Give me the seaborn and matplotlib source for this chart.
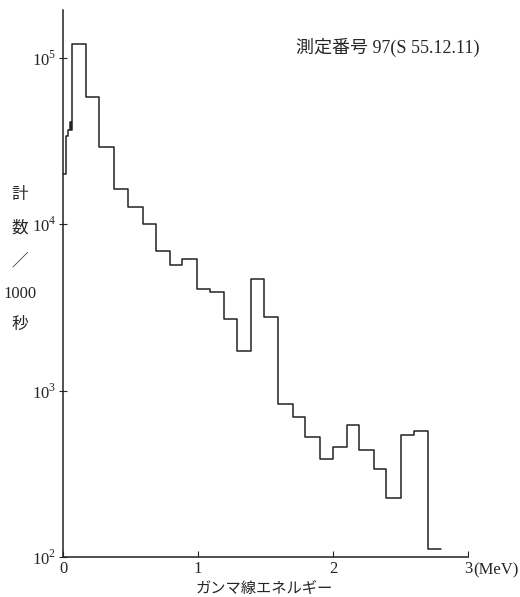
import matplotlib
matplotlib.use("Agg")
from matplotlib import pyplot as plt
import pandas as pd
import seaborn as sns

# bin edges (MeV) and counts per 1000 s
edges = [0.0, 0.02, 0.035, 0.05, 0.06, 0.07, 0.17, 0.27, 0.38, 0.48, 0.59,
         0.69, 0.79, 0.88, 0.99, 1.09, 1.19, 1.29, 1.39, 1.49, 1.59, 1.70,
         1.79, 1.90, 2.00, 2.10, 2.19, 2.30, 2.39, 2.50, 2.60, 2.70, 2.80]
counts = [2.0e4, 3.4e4, 3.7e4, 4.1e4, 3.7e4, 1.21e5, 5.8e4, 2.9e4, 1.63e4,
          1.27e4, 1.0e4, 6.9e3, 5.7e3, 6.2e3, 4.06e3, 3.9e3, 2.7e3, 1.74e3,
          4.67e3, 2.79e3, 830, 690, 530, 390, 460, 620, 440, 340, 226, 540,
          570, 112]

x_ticks = [0, 1, 2, 3]
x_tick_labels = ['0', '1', '2', '3']
y_ticks = [1e2, 1e3, 1e4, 1e5]
y_tick_labels = ['$10^2$', '$10^3$', '$10^4$', '$10^5$']

title_text = '測定番号 97(S 55.12.11)'
x_label = 'ガンマ線エネルギー'
y_label_parts = ['計', '数', '／', '1000', '秒']

sns.set_style('ticks')
plt.rcParams['font.family'] = ['Liberation Serif', 'Noto Sans CJK JP']
plt.rcParams['mathtext.fontset'] = 'custom'
plt.rcParams['mathtext.rm'] = 'Liberation Serif'

mids = [(a + b) / 2 for a, b in zip(edges[:-1], edges[1:])]
df = pd.DataFrame({'energy': mids, 'counts': counts})

fig = plt.figure(figsize=(5.2, 5.97), dpi=100)
ax = fig.add_axes([63 / 520, 1 - 557 / 597, (468 - 63) / 520, (557 - 10) / 597])

sns.histplot(data=df, x='energy', weights='counts', bins=edges,
             element='step', fill=False, color='#222222', linewidth=1.1, ax=ax)

ax.set_yscale('log')
ax.set_xlim(0, 3)
ax.set_ylim(100, 10 ** 5.289)

ax.spines['top'].set_visible(False)
ax.spines['right'].set_visible(False)
for side in ['left', 'bottom']:
    ax.spines[side].set_color('#222222')
    ax.spines[side].set_linewidth(1.1)

ax.set_xticks(x_ticks)
ax.set_xticklabels(x_tick_labels, fontsize=12)
ax.set_yticks(y_ticks)
ax.set_yticklabels(y_tick_labels, fontsize=12)
ax.minorticks_off()
ax.tick_params(axis='x', direction='in', length=4, width=0.8, pad=3)
ax.tick_params(axis='y', direction='inout', length=6, width=0.8, pad=2)
ax.set_xlabel('')
ax.set_ylabel('')

# "(MeV)" right after the last tick label
ax.annotate('(MeV)', xy=(3, 0), xycoords=('data', 'axes fraction'),
            xytext=(4, -4), textcoords='offset points', ha='left', va='top',
            fontsize=12)

# x axis title
fig.text(264 / 520, 1 - 588 / 597, x_label, ha='center', va='center',
         fontsize=11, family=['Noto Sans CJK JP'])

# stacked vertical y label
y_pos = [195, 229, 262, 294, 325]
for part, yp in zip(y_label_parts, y_pos):
    fig.text(20 / 520, 1 - yp / 597, part, ha='center', va='center',
             fontsize=12, family=['Liberation Serif', 'Noto Sans CJK JP'])

fig.text(388 / 520, 1 - 47 / 597, title_text, ha='center', va='center',
         fontsize=13, family=['Liberation Serif', 'Noto Sans CJK JP'])

fig.savefig('out.png', dpi=100)
